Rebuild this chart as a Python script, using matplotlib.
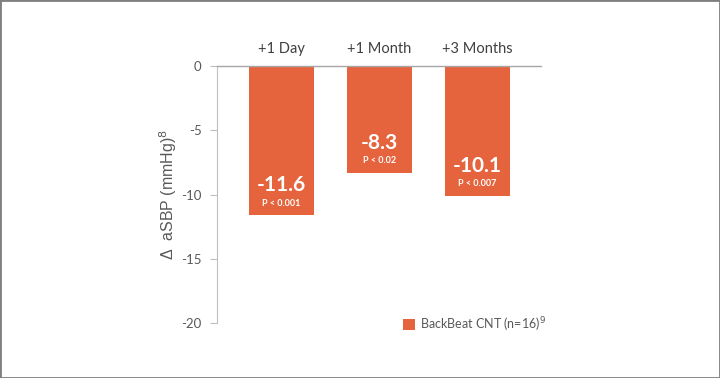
import matplotlib
matplotlib.use("Agg")
import matplotlib.pyplot as plt
from matplotlib.patches import Rectangle

categories = ["+1 Day", "+1 Month", "+3 Months"]
values = [-11.6, -8.3, -10.1]
value_labels = ["-11.6", "-8.3", "-10.1"]
p_labels = ["P < 0.001", "P < 0.02", "P < 0.007"]
yticks = [0, -5, -10, -15, -20]
series_name = "BackBeat CNT (n=16)$^{9}$"

plt.rcParams['font.family'] = ['Lato', 'DejaVu Sans']
orange = "#E5643D"
gray = "#595959"

fig = plt.figure(figsize=(7.2, 3.78), dpi=100)
W, H = 720, 378
ax = fig.add_axes([217 / W, 1 - 323 / H, (541 - 217) / W, (323 - 66) / H])

x = list(range(len(categories)))
bars = ax.bar(x, values, width=0.66, color=orange, label=series_name, zorder=2)
ax.set_xlim(-0.66, 2.65)
ax.set_ylim(-20, 0)
ax.set_yticks(yticks)
ax.set_yticklabels([str(t) for t in yticks], color=gray, fontsize=9.5)
ax.tick_params(axis='y', length=5, color="#BFBFBF", width=0.8, pad=6)
ax.set_xticks([])

for s in ["right", "bottom"]:
    ax.spines[s].set_visible(False)
ax.spines["left"].set_color("#BFBFBF")
ax.spines["left"].set_linewidth(0.8)
ax.spines["top"].set_color("#A6A6A6")
ax.spines["top"].set_linewidth(1.0)

for xi, c in zip(x, categories):
    ax.annotate(c, (xi, 0), xytext=(0, 12), textcoords="offset points",
                ha="center", va="center", fontsize=10.5, color="#404040")

for xi, v, vl, pl in zip(x, values, value_labels, p_labels):
    ax.annotate(vl, (xi, v), xytext=(0, 21.5), textcoords="offset points",
                ha="center", va="center", fontsize=15, fontweight="bold", color="white")
    ax.annotate(pl, (xi, v), xytext=(0, 8.5), textcoords="offset points",
                ha="center", va="center", fontsize=6.5, fontweight="bold", color="white")

ax.set_ylabel("Δ  aSBP (mmHg)$^{8}$", color=gray, fontsize=11.5, labelpad=1.5,
              family=['Liberation Sans', 'DejaVu Sans'])

leg = ax.legend(loc="center left", bbox_to_anchor=(0.575, -0.005), frameon=False,
                fontsize=9, handlelength=0.9, handleheight=0.9, handletextpad=0.4,
                labelcolor=gray, borderaxespad=0, borderpad=0)

fig.patches.append(Rectangle((0, 0), 1, 1, transform=fig.transFigure,
                             fill=False, edgecolor="#7F7F7F", linewidth=2))

fig.savefig("out.png", dpi=100)
